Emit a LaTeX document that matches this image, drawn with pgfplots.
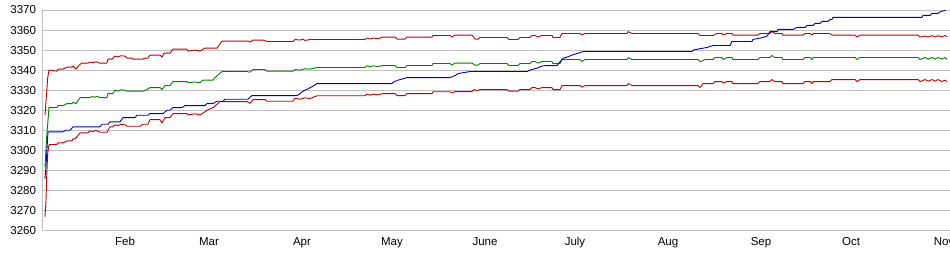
\documentclass[border=0pt]{standalone}
\usepackage{fontspec}
\setmainfont{Liberation Sans}
\usepackage{pgfplots}
\pgfplotsset{compat=1.18}
\definecolor{gridgray}{RGB}{192,192,192}
\definecolor{sred}{RGB}{192,0,0}
\definecolor{sgreen}{RGB}{0,128,0}
\definecolor{sblue}{RGB}{0,0,192}
\begin{document}
\begin{tikzpicture}
\begin{axis}[
  at={(0,0)}, anchor=south west,
  scale only axis, width=907.3pt, height=220.5pt,
  xmin=3.57, xmax=306,
  ymin=3260, ymax=3370,
  ytick={3260,3270,...,3370},
  xtick={31,59,90,120,151,181,212,243,273,304},
  xticklabels={Feb,Mar,Apr,May,June,July,Aug,Sep,Oct,Nov},
  ymajorgrids, grid style={draw=gridgray, line width=0.8pt},
  axis x line*=bottom, axis y line*=left,
  axis line style={draw=gridgray, line width=0.8pt, -},
  major tick length=0pt,
  tick label style={font=\fontsize{11.5}{13}\selectfont},
  /pgf/number format/assume math mode=true,
  /pgf/number format/1000 sep={},
  yticklabel style={anchor=east, inner sep=0pt, xshift=-6.5pt},
  xticklabel style={anchor=base, inner sep=0pt, yshift=-14.5pt},
  every axis plot/.append style={line width=0.9pt, no markers, line join=round},
]
\addplot[sred] coordinates {(4.33,3317.5)(4.9,3329)(5.23,3336)(5.67,3340)(8.33,3339.5)(8.67,3340.5)(10.33,3340.5)(11.67,3341.5)(13.33,3341.5)(13.67,3342)(14.67,3340.5)(15.67,3342.5)(16.67,3343.5)(18.67,3343.5)(19.33,3344)(20.33,3343.7)(21.33,3344.2)(22.67,3343.5)(25,3343.5)(25.33,3345.5)(26.67,3345.5)(27.67,3347)(28.67,3346.6)(29.67,3347.2)(31,3347)(31.67,3346)(33.33,3346)(33.67,3345.5)(37,3345.5)(37.67,3346)(38.67,3346)(39.33,3347.5)(42.67,3347.5)(43.33,3346.5)(44,3348.5)(46,3348.5)(47,3350.5)(51.67,3350.5)(52,3349.5)(54.33,3350)(56,3349.5)(57.67,3351)(61.67,3351)(63.33,3354.5)(72,3354.5)(72.67,3354)(73.67,3355)(77,3355)(78.33,3354.3)(87,3354.3)(87.67,3355.3)(89.33,3355)(90.33,3355.5)(91,3354.8)(92.67,3355.3)(111,3355.3)(111.67,3356)(112.67,3355.5)(113.67,3356)(115.33,3355.7)(117,3356.5)(121,3356.5)(121.67,3355.5)(124.33,3355.5)(125,3356.5)(133.33,3356.5)(133.67,3357.3)(139.33,3357.3)(140,3356.5)(141,3357.5)(146.67,3357.5)(147.67,3355.5)(148.67,3355.5)(149.33,3356.3)(158.33,3356.3)(159,3355.3)(162,3355.3)(162.67,3356.3)(166,3356.3)(166.67,3357.3)(167.67,3357.3)(168.67,3356.5)(170,3357.3)(173.33,3357.3)(173.67,3356.3)(176,3356.3)(176.67,3358.3)(182.67,3358.3)(183.33,3357.5)(184.33,3358.3)(198.33,3358.3)(198.67,3359.2)(200,3358.3)(222,3358.3)(222.67,3357.3)(227,3357.3)(228.33,3358.3)(230,3358.3)(230.33,3357.5)(231.67,3358.3)(233.33,3358.3)(233.67,3357.5)(242,3357.5)(242.67,3358.3)(246,3358.3)(246.67,3359.2)(247.67,3358.3)(250,3358.3)(250.33,3357.5)(257,3357.5)(257.67,3358.3)(259.33,3358.3)(260,3357.5)(260.33,3358.3)(266,3358.3)(266.67,3357.5)(274.33,3357.5)(275,3356.5)(276,3357.5)(295.33,3357.5)(296,3356.5)(297.67,3357)(298.67,3356.5)(300,3357.2)(301,3356.5)(302,3357.2)(303.33,3356.5)(304.33,3357.3)(305,3356.5)};
\addplot[sgreen] coordinates {(4.33,3291.7)(4.9,3306.7)(5.67,3321.3)(8.33,3321.3)(8.67,3322.3)(10.33,3322.3)(11.67,3323.3)(13.33,3323.3)(13.67,3324)(14.67,3323.3)(16,3326.3)(19.33,3326.3)(20,3326.8)(21,3326.5)(21.67,3327)(22.67,3326.3)(25,3326.3)(25.33,3328.3)(27,3328.3)(27.67,3330)(28.67,3329.6)(29.67,3330.2)(31,3330)(31.67,3329.5)(37,3329.5)(38.33,3330.3)(39.33,3331.3)(42.67,3331.3)(43.33,3330.3)(44.33,3332.3)(46,3332.3)(47,3334.3)(51.67,3334.3)(52,3333.7)(54.33,3334.1)(56,3333.7)(57,3335)(60.33,3335)(61,3336.3)(63.33,3339.3)(71.67,3339.3)(72.67,3339)(73.67,3340.3)(77.67,3340.3)(78.33,3339.5)(87,3339.5)(87.67,3340.3)(89.33,3340)(91,3340.7)(92.67,3340.5)(95,3341.3)(111,3341.3)(111.67,3342.2)(112.67,3341.7)(113.67,3342.2)(115.33,3341.8)(117,3342.3)(121,3342.3)(121.67,3341.3)(124.33,3341.3)(125,3342.3)(133.33,3342.3)(133.67,3343.3)(139.33,3343.3)(140,3342.5)(141,3343.5)(146.67,3343.5)(147.67,3342.5)(148.67,3342.5)(149.33,3343.3)(158.33,3343.3)(159,3342.3)(162,3342.3)(162.67,3343.3)(166,3343.3)(166.67,3344.3)(167.67,3344.3)(168.67,3343.5)(170,3344.3)(173.33,3344.3)(173.67,3343.3)(176,3343.3)(176.67,3345.3)(182.67,3345.3)(183.33,3344.3)(184.33,3345.3)(198.33,3345.3)(198.67,3346.2)(200,3345.3)(222,3345.3)(222.67,3344.3)(223.67,3344.7)(224.33,3345.3)(227,3345.3)(227.67,3346.3)(230,3346.3)(230.33,3345.3)(231.67,3346.3)(233.33,3346.3)(233.67,3345.3)(242,3345.3)(242.67,3346.3)(246,3346.3)(246.67,3347.3)(247.67,3346.3)(250,3346.3)(250.33,3345.3)(257,3345.3)(257.67,3346.3)(259.33,3346.3)(260,3345.3)(260.33,3346.3)(274.33,3346.3)(275,3345.3)(276,3346.3)(295.33,3346.3)(296,3345.3)(297.67,3346.3)(298.67,3345.5)(300,3346.3)(301,3345.5)(302,3346.3)(303.33,3345.5)(304.33,3346.3)(305,3345.3)};
\addplot[sred] coordinates {(4.33,3266.7)(4.67,3275)(4.9,3286.7)(5.23,3298.3)(5.67,3302.8)(8.33,3303)(8.67,3303.7)(10.33,3303.7)(11.67,3304.7)(13.33,3304.7)(13.67,3305.7)(14.33,3305.7)(15,3306.7)(16,3308.7)(18.67,3308.7)(19.33,3309.7)(20.33,3309.3)(21.33,3310)(22.67,3309)(25,3309)(26,3311.7)(27,3311.7)(27.67,3312.7)(28.67,3312.3)(29.67,3313)(31,3312.7)(31.67,3312)(36,3312)(37,3313)(38.67,3313)(39.33,3315.3)(42.67,3315.3)(43.33,3313.7)(44.33,3316.3)(46,3316.3)(47,3318.3)(51.67,3318.3)(52,3317.7)(54.33,3318.2)(56,3317.7)(57,3318.5)(58.33,3320)(60.33,3321.3)(62.67,3324.3)(71.67,3324.3)(72.67,3323.5)(73.67,3325.3)(77.67,3325.3)(78.33,3324.5)(87,3324.5)(87.67,3326)(89.33,3325.5)(91,3326.2)(92.67,3325.8)(95,3327.2)(111,3327.2)(111.67,3328)(112.67,3327.5)(113.67,3328)(115.33,3327.7)(117,3328.3)(121,3328.3)(121.67,3327.3)(124.33,3327.3)(125,3328.3)(133.33,3328.3)(133.67,3329.2)(139.33,3329.2)(140,3328.6)(141,3329.3)(146.67,3329.3)(147.33,3330.3)(148.33,3329.8)(149.33,3330.3)(158.33,3330.3)(159,3329.5)(162,3329.5)(162.67,3330.3)(166,3330.3)(166.67,3331.3)(167.67,3331.3)(168.67,3330.6)(170,3331.3)(173.33,3331.3)(173.67,3330.3)(176,3330.3)(176.67,3332.3)(182.67,3332.3)(183.33,3331.5)(184.33,3332.3)(198.33,3332.3)(198.67,3333.3)(200,3332.3)(222,3332.3)(222.67,3331.3)(223.67,3333.3)(227,3333.3)(227.67,3334.3)(230,3334.3)(230.33,3333.5)(231.67,3334.3)(233.33,3334.3)(233.67,3333.3)(242,3333.3)(242.67,3334.3)(246,3334.3)(246.67,3335.3)(247.67,3334.3)(250,3334.3)(250.33,3333.3)(257,3333.3)(257.67,3334.3)(259.33,3334.3)(260,3333.3)(260.33,3334.3)(266,3334.3)(266.67,3335.3)(274.33,3335.3)(275,3334.3)(276,3335.3)(295.33,3335.3)(296,3334.3)(297.67,3335.3)(298.67,3334.5)(300,3335.3)(301,3334.5)(302,3335.3)(303.33,3334.3)(304.33,3335)(305,3334.3)};
\addplot[sblue] coordinates {(4.33,3285.8)(4.67,3292)(5.33,3309.2)(10.33,3309.2)(11.33,3310)(12.67,3310)(13.67,3311.7)(22.67,3311.7)(23.33,3313)(25.33,3313)(26,3314.2)(29.33,3314.2)(30.33,3316.3)(34.33,3316.3)(35,3317.5)(38.67,3317.5)(39.33,3318.3)(43.67,3318.3)(45,3320)(46,3320)(47,3321.3)(50,3321.3)(51,3322.3)(57.67,3322.3)(58.33,3323.3)(60.33,3323.3)(61.67,3324.5)(63.67,3324.5)(64.33,3325.5)(72,3325.5)(72.67,3326.5)(73.33,3327.3)(88.33,3327.3)(89.33,3328.3)(90.33,3329.5)(92,3330.7)(93.67,3332)(95,3333.3)(120,3333.3)(120.33,3334)(122,3335)(123.67,3335.7)(125,3336.3)(139.33,3336.3)(141,3337.3)(142,3338.3)(143.67,3338.7)(146,3339.3)(165,3339.3)(166,3340)(168.33,3341)(170.33,3342.2)(175,3342.3)(176,3344.2)(177,3345.8)(178.67,3346.7)(180.33,3347.7)(182.67,3348.7)(183.67,3349.3)(220,3349.3)(220.33,3350)(222.67,3350.7)(225,3351.3)(227,3352.3)(232.67,3352.3)(233.33,3354.3)(240,3354.3)(240.33,3355.3)(242,3355.8)(243.67,3356.3)(245,3357)(246,3359.2)(248.33,3359.2)(248.67,3360.3)(253.67,3360.3)(255,3361.3)(257.67,3361.3)(258.33,3362.3)(260.33,3362.3)(261,3363.3)(262.67,3363.3)(263.33,3364.3)(265.33,3364.3)(266,3365.3)(266.67,3365.3)(267,3366.3)(296.67,3366.3)(297,3367.3)(299.33,3367.3)(300,3368.3)(302,3368.3)(302.67,3369)(304.67,3370)};
\end{axis}
\pgfresetboundingbox
\path[use as bounding box] (-42.7pt,-24.5pt) rectangle (907.3pt,230.5pt);
\end{tikzpicture}
\end{document}
